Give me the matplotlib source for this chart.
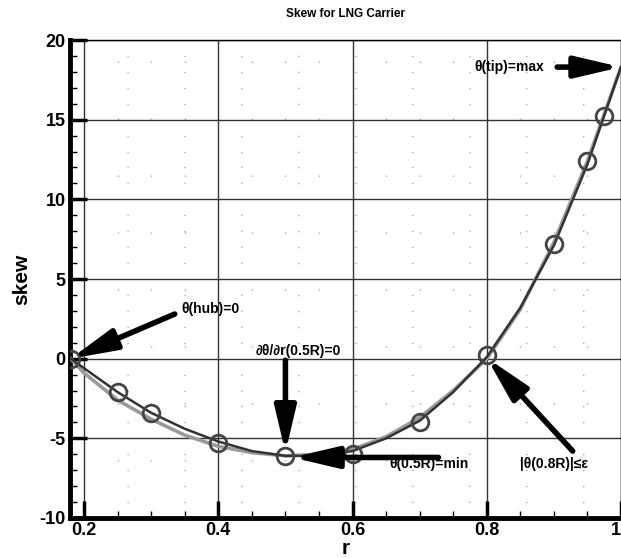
import matplotlib
matplotlib.use("Agg")
import matplotlib.pyplot as plt
from matplotlib.ticker import MultipleLocator, FuncFormatter

plt.rcParams['font.family'] = ['Liberation Sans', 'DejaVu Sans']
plt.rcParams['font.weight'] = 'bold'

# --- data ---
r_curve = [0.18, 0.20, 0.25, 0.30, 0.35, 0.40, 0.45, 0.50, 0.55, 0.60,
           0.65, 0.70, 0.75, 0.80, 0.85, 0.90, 0.95, 1.00]
skew_dark = [0.0, -0.6, -2.1, -3.4, -4.4, -5.2, -5.8, -6.1, -6.1, -5.8,
             -5.0, -3.9, -2.1, 0.1, 3.2, 7.1, 12.2, 18.3]
skew_light = [0.0, -0.9, -2.6, -3.8, -4.8, -5.5, -5.9, -6.1, -6.0, -5.7,
              -4.9, -3.7, -2.0, 0.0, 3.1, 7.3, 12.4, 18.3]

r_pts = [0.18, 0.25, 0.30, 0.40, 0.50, 0.60, 0.70, 0.80, 0.90, 0.95, 0.975]
skew_pts = [0.0, -2.1, -3.4, -5.3, -6.1, -6.0, -4.0, 0.2, 7.2, 12.4, 15.2]

x_ticks = [0.2, 0.4, 0.6, 0.8, 1.0]
x_labels = ["0.2", "0.4", "0.6", "0.8", "1"]

# annotations: (text, text xy, arrow tail, arrow tip, ha)
notes = [
    ("θ(tip)=max", (0.885, 18.3), (0.905, 18.3), (1.0, 18.3), "right"),
    ("θ(hub)=0", (0.345, 3.1), (0.335, 2.8), (0.18, 0.0), "left"),
    ("∂θ/∂r(0.5R)=0", (0.455, 0.5), (0.50, -0.1), (0.50, -5.9), "left"),
    ("θ(0.5R)=min", (0.655, -6.6), (0.728, -6.2), (0.51, -6.2), "left"),
    ("|θ(0.8R)|≤ε", (0.85, -6.6), (0.928, -5.8), (0.80, 0.05), "left"),
]

fig = plt.figure(figsize=(6.21, 5.58), dpi=100)
ax = fig.add_axes([0.1127, 0.0717, 0.8873, 0.8566])

ax.plot(r_curve, skew_light, color='#9a9a9a', lw=2.6, zorder=3)
ax.plot(r_curve, skew_dark, color='#333333', lw=1.8, zorder=4)
ax.plot(r_pts, skew_pts, 'o', ms=12, mfc='none', mec='#444444', mew=2.0, zorder=5)

for text, txy, tail, tip, ha in notes:
    ax.annotate("", xy=tip, xytext=tail,
                arrowprops=dict(arrowstyle='-|>,head_length=1.7,head_width=0.4',
                                lw=4, color='black', mutation_scale=16,
                                shrinkA=0, shrinkB=0),
                zorder=6)
    ax.text(txy[0], txy[1], text, ha=ha, va='center', fontsize=10,
            fontweight='bold', family=['Liberation Sans', 'DejaVu Sans'], zorder=7)

ax.set_xlim(0.179, 1.0)
ax.set_ylim(-10, 20)
ax.set_xticks(x_ticks, x_labels)
ax.xaxis.set_minor_locator(MultipleLocator(0.05))
ax.yaxis.set_major_locator(MultipleLocator(5))
ax.yaxis.set_minor_locator(MultipleLocator(1))
ax.yaxis.set_major_formatter(FuncFormatter(lambda v, p: f"{v:g}"))

ax.grid(True, which='major', color='#333333', lw=1.0)
ax.grid(True, which='minor', color='#aaaaaa', lw=1.0, linestyle=(0, (1, 40)))

ax.tick_params(which='major', direction='in', length=12, width=2.5, labelsize=13, pad=3)
ax.tick_params(which='minor', direction='in', length=5, width=1.0)
ax.tick_params(top=False, right=False, which='both')

for side in ['left', 'bottom']:
    ax.spines[side].set_linewidth(3.5)
for side in ['top', 'right']:
    ax.spines[side].set_linewidth(1.0)

ax.set_xlabel("r", fontsize=15, fontweight='bold', labelpad=0)
ax.set_ylabel("skew", fontsize=15, fontweight='bold', labelpad=6)
fig.text(0.556, 0.975, "Skew for LNG Carrier", ha='center', va='center',
         fontsize=8.5, fontweight='bold')

fig.canvas.draw()
for lbl in ax.get_xticklabels() + ax.get_yticklabels():
    lbl.set_fontweight('bold')
ax.get_xticklabels()[-1].set_horizontalalignment('right')

fig.savefig("out.png", dpi=100)
